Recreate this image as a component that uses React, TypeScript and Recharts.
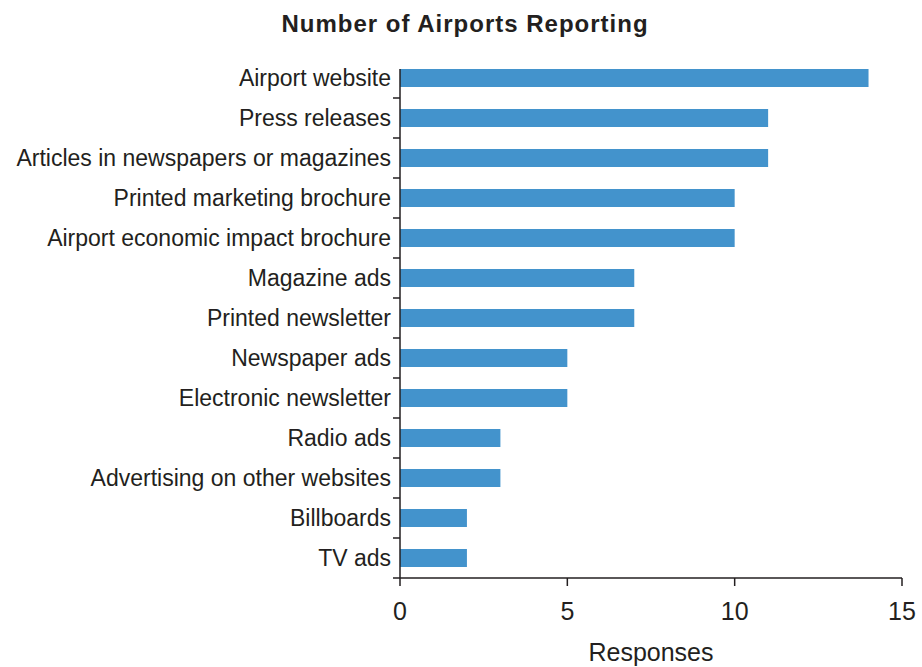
import { BarChart, Bar, XAxis, YAxis } from 'recharts';

const CATEGORIES = [
  'Airport website',
  'Press releases',
  'Articles in newspapers or magazines',
  'Printed marketing brochure',
  'Airport economic impact brochure',
  'Magazine ads',
  'Printed newsletter',
  'Newspaper ads',
  'Electronic newsletter',
  'Radio ads',
  'Advertising on other websites',
  'Billboards',
  'TV ads',
];
const RESPONSES = [14, 11, 11, 10, 10, 7, 7, 5, 5, 3, 3, 2, 2];
const X_TICKS = [0, 5, 10, 15];

const INK = '#231f20';
const BAR = '#4393cc';
const FONT = '"Liberation Sans", Arial, Helvetica, sans-serif';

const data = CATEGORIES.map((name, i) => ({ name, value: RESPONSES[i] }));

// label at band centre, small tick at the lower band boundary,
// and the axis line drawn piece by piece so it starts just above the first bar
function CategoryTick(props: any) {
  const { x, y, payload, index } = props;
  const half = payload && payload.offset ? payload.offset : 20;
  const top = index === 0 ? y - 9 : y - half;
  return (
    <g>
      <line x1={x} x2={x} y1={top} y2={y + half} stroke={INK} strokeWidth={1.5} />
      <line x1={x - 7} x2={x} y1={y + half} y2={y + half} stroke={INK} strokeWidth={1.5} />
      <text
        x={x - 9}
        y={y}
        dy="0.36em"
        textAnchor="end"
        fill={INK}
        fontSize={23}
        fontFamily={FONT}
      >
        {payload.value}
      </text>
    </g>
  );
}

export default function App() {
  return (
    <div style={{ position: 'relative', width: 922, height: 667, background: '#fff' }}>
      <style>{'body{margin:0}'}</style>
      <div
        style={{
          position: 'absolute',
          left: 0,
          width: 930,
          top: 10,
          textAlign: 'center',
          fontFamily: FONT,
          fontWeight: 'bold',
          fontSize: 24,
          letterSpacing: 1,
          color: INK,
        }}
      >
        Number of Airports Reporting
      </div>
      <BarChart
        width={922}
        height={667}
        data={data}
        layout="vertical"
        margin={{ top: 58, right: 20, bottom: 4, left: 10 }}
      >
        <XAxis
          type="number"
          domain={[0, 15]}
          ticks={X_TICKS}
          axisLine={{ stroke: INK, strokeWidth: 1.5 }}
          tickLine={{ stroke: INK, strokeWidth: 1.5 }}
          tickSize={8}
          tickMargin={16}
          height={85}
          tick={{ fill: INK, fontSize: 25, fontFamily: FONT }}
          label={{
            value: 'Responses',
            position: 'insideBottom',
            offset: 2,
            fill: INK,
            fontSize: 25,
            fontFamily: FONT,
          }}
        />
        <YAxis
          type="category"
          dataKey="name"
          width={390}
          interval={0}
          axisLine={false}
          tickLine={false}
          tickSize={0}
          tickMargin={0}
          tick={<CategoryTick />}
        />
        <Bar dataKey="value" fill={BAR} barSize={18} isAnimationActive={false} />
      </BarChart>
    </div>
  );
}
